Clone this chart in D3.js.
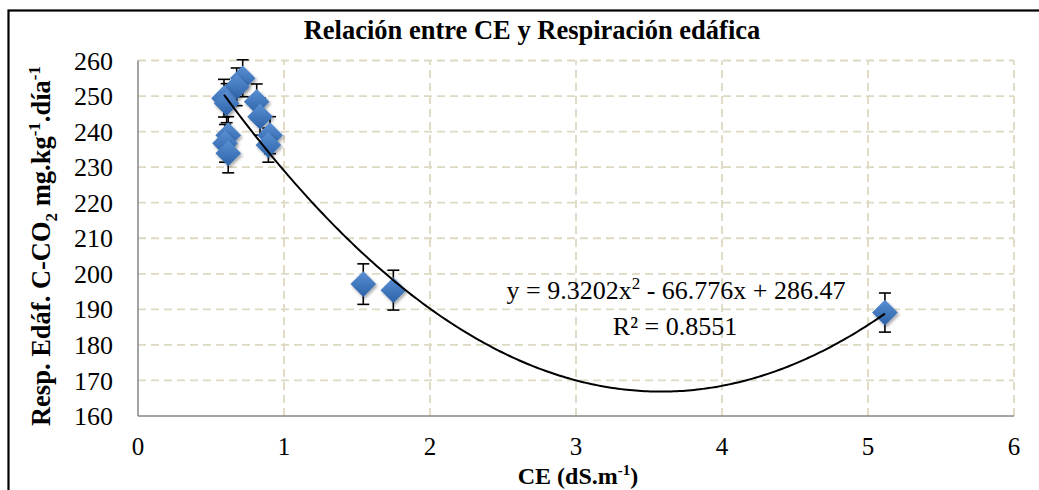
<!DOCTYPE html>
<html>
<head>
<meta charset="utf-8">
<script src="https://cdn.jsdelivr.net/npm/d3@7"></script>
<style>
  html, body { margin: 0; padding: 0; background: #fff; }
</style>
</head>
<body>
<svg id="chart" width="1039" height="490"></svg>
<script>
// CE (dS/m) vs soil respiration
const ceValues = [0.717, 0.676, 0.589, 0.607, 0.813, 0.836, 0.618, 0.596, 0.618, 0.904, 0.893, 1.543, 1.749, 5.116];
const respValues = [255.0, 252.6, 249.4, 248.0, 248.4, 244.2, 239.0, 236.7, 233.9, 239.0, 236.2, 197.1, 195.4, 189.1];
const errValues = [5.2, 5.3, 5.3, 5.5, 5.0, 5.2, 5.2, 5.3, 5.5, 5.2, 4.8, 5.7, 5.6, 5.5];
const xTicks = [0, 1, 2, 3, 4, 5, 6];
const yTicks = [160, 170, 180, 190, 200, 210, 220, 230, 240, 250, 260];
const fitCoef = [9.3202, -66.776, 286.47];   // a x^2 + b x + c
const fitRange = [0.589, 5.116];

// pick the first serif face that is really installed
const pickFont = (names) => {
    const ctx = document.createElement("canvas").getContext("2d");
    const probe = "Rg160 mmmWWiil 0.8551";
    const widthOf = f => { ctx.font = `40px ${f}`; return ctx.measureText(probe).width; };
    for (const n of names) {
        const a = widthOf(`"${n}", monospace`), b = widthOf(`"${n}", sans-serif`);
        if (a === b) return `"${n}"`;
    }
    return "serif";
};
const serif = pickFont(["Liberation Serif", "Times New Roman", "Tinos", "Nimbus Roman", "Noto Serif", "DejaVu Serif"]) + ", serif";

const svg = d3.select("#chart").style("font-family", serif);

// 1. Scales
const x = d3.scaleLinear().domain([0, 6]).range([138, 1014]);
const y = d3.scaleLinear().domain([160, 260]).range([416, 60.5]);

// outer frame (runs off the right/bottom of the picture)
svg.append("rect")
    .attr("x", 8.5).attr("y", 10.5)
    .attr("width", 1060).attr("height", 500)
    .attr("fill", "none").attr("stroke", "#000").attr("stroke-width", 2.2);

// 2. Gridlines
const grid = svg.append("g");
grid.selectAll(".gy")
    .data(yTicks.filter(d => d > 160))
    .join("line")
    .attr("x1", x(0)).attr("x2", x(6))
    .attr("y1", d => y(d)).attr("y2", d => y(d))
    .attr("stroke", "#DDD9C3").attr("stroke-width", 1.8)
    .attr("stroke-dasharray", "8,5");
grid.selectAll(".gx")
    .data(xTicks.filter(d => d > 0))
    .join("line")
    .attr("x1", d => x(d)).attr("x2", d => x(d))
    .attr("y1", y(160)).attr("y2", y(260))
    .attr("stroke", "#DDD9C3").attr("stroke-width", 1.8)
    .attr("stroke-dasharray", "8,5");

// 3. Axis lines
svg.append("line")
    .attr("x1", x(0)).attr("x2", x(0))
    .attr("y1", y(160)).attr("y2", y(260))
    .attr("stroke", "#868686").attr("stroke-width", 1.5);
svg.append("line")
    .attr("x1", x(0)).attr("x2", x(6))
    .attr("y1", y(160)).attr("y2", y(160))
    .attr("stroke", "#868686").attr("stroke-width", 1.5);

// tick labels
svg.append("g").selectAll("text")
    .data(yTicks)
    .join("text")
    .attr("x", 113).attr("y", d => y(d))
    .attr("dy", "0.35em")
    .attr("text-anchor", "end")
    .style("font-size", "26px")
    .text(d => d);
svg.append("g").selectAll("text")
    .data(xTicks)
    .join("text")
    .attr("x", d => x(d)).attr("y", 455)
    .attr("text-anchor", "middle")
    .style("font-size", "25px")
    .text(d => d);

// 4. Titles
svg.append("text")
    .attr("x", 532).attr("y", 39)
    .attr("text-anchor", "middle")
    .style("font-size", "26.5px").style("font-weight", "bold")
    .text("Relación entre CE y Respiración edáfica");

const xt = svg.append("text")
    .attr("x", 578).attr("y", 484)
    .attr("text-anchor", "middle")
    .style("font-size", "24px").style("font-weight", "bold");
xt.append("tspan").text("CE (dS.m");
xt.append("tspan").attr("dy", -9).style("font-size", "15px").text("-1");
xt.append("tspan").attr("dy", 9).text(")");

const yt = svg.append("text")
    .attr("transform", `translate(50,${246}) rotate(-90)`)
    .attr("text-anchor", "middle")
    .style("font-size", "26.5px").style("font-weight", "bold");
yt.append("tspan").text("Resp. Edáf. C-CO");
yt.append("tspan").attr("dy", 7).style("font-size", "17px").text("2");
yt.append("tspan").attr("dy", -7).text(" mg.kg");
yt.append("tspan").attr("dy", -10).style("font-size", "17px").text("-1");
yt.append("tspan").attr("dy", 10).text(".día");
yt.append("tspan").attr("dy", -10).style("font-size", "17px").text("-1");

// 5. Markers: gradient + soft shadow
const defs = svg.append("defs");
const grad = defs.append("linearGradient").attr("id", "dgrad")
    .attr("x1", 0).attr("y1", 0).attr("x2", 0).attr("y2", 1);
grad.append("stop").attr("offset", "0%").attr("stop-color", "#5A8FD3");
grad.append("stop").attr("offset", "100%").attr("stop-color", "#2C62A8");
const shadow = defs.append("filter").attr("id", "dshadow")
    .attr("x", "-50%").attr("y", "-50%").attr("width", "200%").attr("height", "200%");
shadow.append("feDropShadow")
    .attr("dx", 1.5).attr("dy", 2).attr("stdDeviation", 1.6)
    .attr("flood-color", "#000").attr("flood-opacity", 0.35);

const points = ceValues.map((v, i) => ({ ce: v, resp: respValues[i], err: errValues[i] }));

// error bars
const eb = svg.append("g").attr("stroke", "#000").attr("stroke-width", 1.6);
points.forEach(d => {
    const cx = x(d.ce);
    eb.append("line").attr("x1", cx).attr("x2", cx)
        .attr("y1", y(d.resp - d.err)).attr("y2", y(d.resp + d.err));
    [d.resp - d.err, d.resp + d.err].forEach(v => {
        eb.append("line").attr("x1", cx - 6).attr("x2", cx + 6)
            .attr("y1", y(v)).attr("y2", y(v));
    });
});

// diamonds
svg.append("g").selectAll("path")
    .data(points)
    .join("path")
    .attr("transform", d => `translate(${x(d.ce)},${y(d.resp)})`)
    .attr("d", d3.symbol(d3.symbolDiamond2, 420)())
    .attr("fill", "url(#dgrad)")
    .attr("filter", "url(#dshadow)");

// 6. Polynomial trendline
const fitX = d3.range(fitRange[0], fitRange[1], 0.02).concat([fitRange[1]]);
const fit = v => fitCoef[0] * v * v + fitCoef[1] * v + fitCoef[2];
svg.append("path")
    .datum(fitX)
    .attr("d", d3.line().x(d => x(d)).y(d => y(fit(d))))
    .attr("fill", "none").attr("stroke", "#000").attr("stroke-width", 2);

// equation label
const eq = svg.append("text")
    .attr("x", 676).attr("y", 299)
    .attr("text-anchor", "middle")
    .style("font-size", "26px");
eq.append("tspan").text("y = 9.3202x");
eq.append("tspan").attr("dy", -10).style("font-size", "17px").text("2");
eq.append("tspan").attr("dy", 10).text(" - 66.776x + 286.47");
svg.append("text")
    .attr("x", 675).attr("y", 335)
    .attr("text-anchor", "middle")
    .style("font-size", "26px")
    .text("R² = 0.8551");
</script>
</body>
</html>
